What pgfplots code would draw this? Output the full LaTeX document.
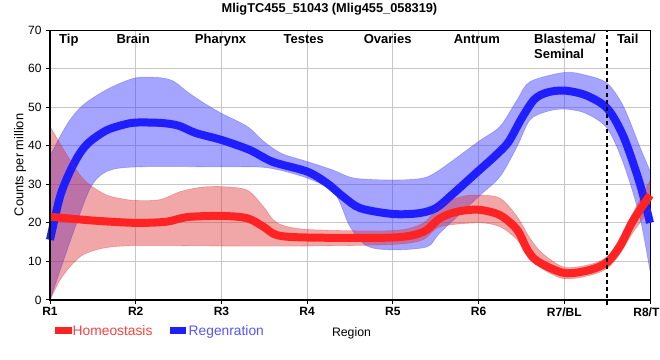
\documentclass[border=0pt]{standalone}
\usepackage{fontspec}
\setmainfont{Liberation Sans}
\usepackage{pgfplots}
\pgfplotsset{compat=1.18}
\usepgfplotslibrary{fillbetween}
\definecolor{bline}{RGB}{30,30,255}
\definecolor{rline}{RGB}{255,35,35}
\definecolor{bband}{RGB}{55,55,255}
\definecolor{rband}{RGB}{222,45,45}
\definecolor{rtext}{RGB}{250,65,65}
\definecolor{btext}{RGB}{85,85,255}
\begin{document}
\begin{tikzpicture}
\begin{axis}[
  at={(50bp,60bp)}, anchor=south west,
  width=600bp, height=270bp, scale only axis,
  xmin=1, xmax=8, ymin=0, ymax=70,
  xtick={1,2,3,4,5,6,7,8},
  xticklabels={R1,R2,R3,R4,R5,R6,R7/BL,R8/TL},
  ytick={0,10,20,30,40,50,60,70},
  xtick pos=lower, ytick pos=left,
  tick align=outside, major tick length=4bp,
  grid=major, major grid style={draw=black!22, line width=0.9bp},
  axis line style={black, line width=1bp},
  tick style={black, line width=1bp},
  x tick label style={font=\fontsize{12bp}{14bp}\selectfont\bfseries, yshift=0bp},
  y tick label style={font=\fontsize{12bp}{14bp}\selectfont, xshift=-1bp},
  /pgf/number format/assume math mode=true,
  clip=false,
]
% Regeneration band
\addplot[name path=bu, draw=bband, draw opacity=0.35, line width=0.6bp, smooth] coordinates {
(1.0,37.2)(1.117,42.4)(1.233,46.7)(1.35,49.8)(1.467,51.9)(1.7,55.0)(2.0,57.6)(2.3,57.6)(2.45,56.6)(2.6,54.0)(2.8,51.0)(3.0,48.4)(3.3,45.0)(3.5,41.0)(3.7,38.0)(4.0,35.9)(4.3,33.7)(4.55,31.6)(5.0,31.1)(5.35,31.6)(5.55,33.8)(6.0,41.1)(6.25,45.0)(6.45,51.9)(6.6,56.6)(7.0,59.0)(7.25,58.3)(7.5,56.2)(7.69,50.2)(7.88,39.8)(8.0,33.5)};
\addplot[name path=bl, draw=bband, draw opacity=0.35, line width=0.6bp, smooth] coordinates {
(1.0,0)(1.27,17.4)(1.47,29.0)(1.66,33.3)(2.0,34.5)(3.0,34.5)(3.53,34.3)(4.0,31.6)(4.32,27.7)(4.5,19.0)(4.7,14.0)(5.0,13.0)(5.4,13.8)(5.55,17.4)(6.0,26.8)(6.25,32.0)(6.45,39.8)(6.6,46.7)(6.8,48.9)(7.0,49.5)(7.25,48.4)(7.5,44.5)(7.69,35.4)(7.88,21.6)(8.0,7.5)};
\addplot[fill=bband, fill opacity=0.45, draw=none] fill between[of=bu and bl];
% Regeneration line
\addplot[bline, line width=8bp, smooth] coordinates {
(1.0,15.6)(1.117,26.8)(1.233,33.3)(1.35,38.1)(1.467,41.1)(1.66,44.0)(1.85,45.4)(2.0,46.0)(2.3,45.9)(2.5,45.2)(2.7,43.3)(3.0,41.5)(3.33,38.9)(3.6,35.8)(4.0,33.3)(4.23,30.3)(4.42,26.8)(4.62,23.8)(5.0,22.3)(5.3,22.5)(5.5,23.8)(5.7,27.5)(6.0,33.5)(6.2,37.5)(6.35,41.0)(6.5,47.0)(6.65,52.0)(6.8,53.8)(7.0,54.3)(7.25,53.1)(7.5,49.7)(7.69,42.4)(7.88,30.3)(8.0,20.0)};
% Homeostasis band
\addplot[name path=ru, draw=rband, draw opacity=0.35, line width=0.6bp, smooth] coordinates {
(1.0,45.0)(1.117,40.6)(1.233,36.3)(1.35,32.4)(1.467,29.8)(1.66,27.2)(1.85,26.2)(2.0,25.8)(2.28,26.0)(2.52,28.1)(2.75,29.2)(3.0,29.4)(3.3,28.5)(3.49,24.2)(3.65,20.0)(4.0,18.3)(5.0,18.0)(5.35,19.9)(5.55,24.4)(5.8,26.8)(6.0,27.2)(6.25,26.4)(6.45,21.6)(6.6,16.0)(6.75,12.0)(7.0,8.5)(7.3,9.2)(7.5,11.2)(7.65,16.0)(7.8,22.5)(8.0,31.0)};
\addplot[name path=rl, draw=rband, draw opacity=0.35, line width=0.6bp, smooth] coordinates {
(1.0,0)(1.117,5.2)(1.233,8.6)(1.35,11.2)(1.467,12.5)(1.66,13.6)(2.0,14.1)(3.0,14.0)(4.0,14.0)(5.0,14.4)(5.35,15.6)(5.55,19.0)(6.0,20.0)(6.25,19.0)(6.45,15.6)(6.6,11.0)(6.75,8.0)(7.0,5.5)(7.3,6.4)(7.5,8.2)(7.65,12.0)(7.8,17.5)(8.0,23.5)};
\addplot[fill=rband, fill opacity=0.42, draw=none] fill between[of=ru and rl];
% Homeostasis line
\addplot[rline, line width=8bp, smooth] coordinates {
(1.0,21.6)(1.5,20.6)(2.0,20.0)(2.36,20.3)(2.6,21.5)(3.0,21.8)(3.3,21.2)(3.49,19.0)(3.65,16.8)(4.0,16.2)(5.0,16.2)(5.35,17.6)(5.55,21.2)(5.75,22.9)(6.0,23.4)(6.25,22.0)(6.45,18.2)(6.57,13.0)(6.69,10.0)(7.0,7.0)(7.3,7.8)(7.5,9.8)(7.65,14.0)(7.8,20.5)(8.0,27.2)};
% dashed divider
\addplot[black, line width=2.6bp, dash pattern=on 4bp off 3.2bp] coordinates {(7.5,-1.4)(7.5,70)};
% thick left and bottom axis lines
\draw[black, line width=2.7bp] (rel axis cs:0,1) -- (rel axis cs:0,0) -- (rel axis cs:1,0);
% region labels
\begin{scope}[every node/.style={font=\fontsize{13bp}{15bp}\selectfont\bfseries, inner sep=0pt}]
\node[anchor=base] at (axis cs:1.22,66.4) {Tip};
\node[anchor=base] at (axis cs:1.97,66.4) {Brain};
\node[anchor=base] at (axis cs:2.99,66.4) {Pharynx};
\node[anchor=base] at (axis cs:3.96,66.4) {Testes};
\node[anchor=base] at (axis cs:4.94,66.4) {Ovaries};
\node[anchor=base] at (axis cs:5.98,66.4) {Antrum};
\node[anchor=base west] at (axis cs:6.647,66.4) {Blastema/};
\node[anchor=base west] at (axis cs:6.647,62.7) {Seminal};
\node[anchor=base] at (axis cs:7.74,66.4) {Tail};
\end{scope}
\end{axis}
% title
\node[anchor=base, inner sep=0pt, font=\fontsize{12.8bp}{15bp}\selectfont\bfseries] at (329.5bp,347bp) {MligTC455\_51043 (Mlig455\_058319)};
% y label
\node[rotate=90, inner sep=0pt, font=\fontsize{12.8bp}{15bp}\selectfont] at (20bp,195bp) {Counts per million};
% x label
\node[anchor=base, inner sep=0pt, font=\fontsize{12.3bp}{14bp}\selectfont] at (351.5bp,23.5bp) {Region};
% legend
\fill[rline] (55bp,26bp) rectangle (72bp,33bp);
\node[anchor=base west, inner sep=0pt, text=rtext, font=\fontsize{13.8bp}{16bp}\selectfont] at (72.5bp,25bp) {Homeostasis};
\fill[bline] (170bp,26bp) rectangle (186bp,33bp);
\node[anchor=base west, inner sep=0pt, text=btext, font=\fontsize{13.8bp}{16bp}\selectfont] at (188.5bp,25bp) {Regenration};
\pgfresetboundingbox
\useasboundingbox (0,0) rectangle (660bp,360bp);
\end{tikzpicture}
\end{document}
